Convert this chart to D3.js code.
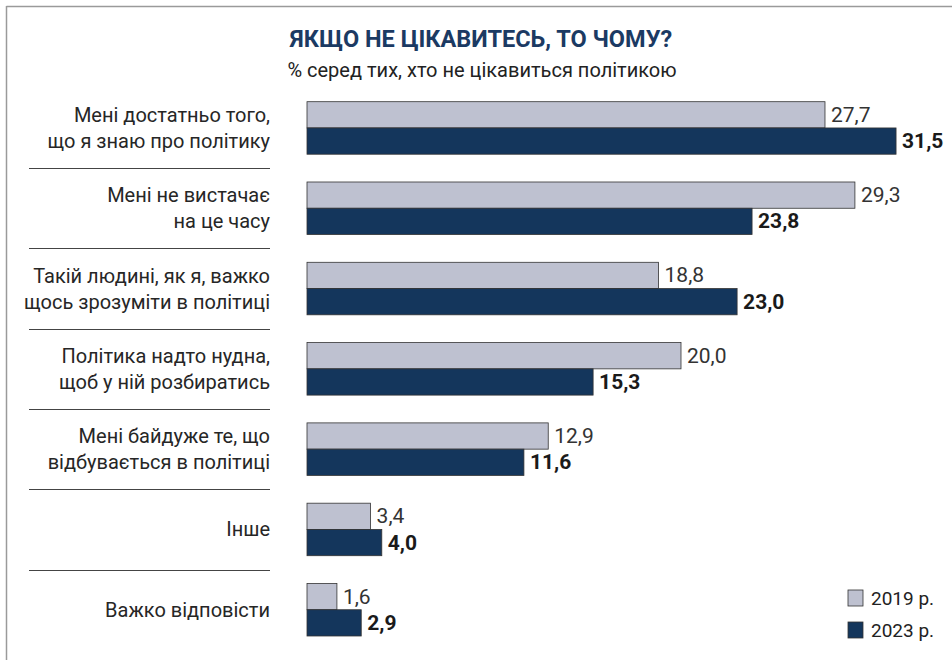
<!DOCTYPE html>
<html><head><meta charset="utf-8">
<script src="https://cdn.jsdelivr.net/npm/d3@7"></script>
<style>
html,body{margin:0;padding:0;background:#fff;}
svg{display:block;}
</style></head>
<body>
<svg id="chart" width="952" height="660"></svg>
<script>
const categories = [
  ["Мені достатньо того,", "що я знаю про політику"],
  ["Мені не вистачає", "на це часу"],
  ["Такій людині, як я, важко", "щось зрозуміти в політиці"],
  ["Політика надто нудна,", "щоб у ній розбиратись"],
  ["Мені байдуже те, що", "відбувається в політиці"],
  ["Інше"],
  ["Важко відповісти"]
];
const seriesNames = ["2019 р.", "2023 р."];
const values2019 = [27.7, 29.3, 18.8, 20.0, 12.9, 3.4, 1.6];
const values2023 = [31.5, 23.8, 23.0, 15.3, 11.6, 4.0, 2.9];
const title = "ЯКЩО НЕ ЦІКАВИТЕСЬ, ТО ЧОМУ?";
const subtitle = "% серед тих, хто не цікавиться політикою";

const colors = ["#bec1d0", "#14365c"];
const svg = d3.select("#chart");
const fmt = v => d3.format(".1f")(v).replace(".", ",");

// frame
svg.append("line").attr("x1", 6.5).attr("x2", 952).attr("y1", 6.5).attr("y2", 6.5)
  .attr("stroke", "#9a9a9a").attr("stroke-width", 1.5);
svg.append("line").attr("x1", 6.5).attr("x2", 6.5).attr("y1", 6).attr("y2", 660)
  .attr("stroke", "#9a9a9a").attr("stroke-width", 1.5);

svg.append("text").attr("x", 481).attr("y", 47).attr("text-anchor", "middle")
  .attr("font-family", "'Liberation Sans Narrow', 'Roboto', sans-serif")
  .attr("font-weight", "bold").attr("font-size", 23.5).attr("fill", "#1b3a63")
  .text(title);
svg.append("text").attr("x", 482).attr("y", 77).attr("text-anchor", "middle")
  .attr("font-family", "Roboto, sans-serif").attr("font-size", 20).attr("fill", "#222")
  .text(subtitle);

const idx = d3.range(categories.length);
const y = d3.scaleBand().domain(idx).range([101.7, 636]).paddingInner(0.346).paddingOuter(0);
const ySub = d3.scaleBand().domain([0, 1]).range([0, y.bandwidth()]);
const x = d3.scaleLinear().domain([0, 35]).range([307, 307 + 35 * 18.7]);

const data = idx.map(i => ({i, vals: [values2019[i], values2023[i]]}));
const g = svg.selectAll("g.grp").data(data).join("g").attr("class", "grp")
  .attr("transform", d => `translate(0,${y(d.i)})`);

g.selectAll("rect").data(d => d.vals.map((v, s) => ({v, s}))).join("rect")
  .attr("x", x(0)).attr("y", d => ySub(d.s))
  .attr("width", d => x(d.v) - x(0)).attr("height", ySub.bandwidth())
  .attr("fill", d => colors[d.s]).attr("stroke", "#333").attr("stroke-width", 0.8);

g.selectAll("text.val").data(d => d.vals.map((v, s) => ({v, s}))).join("text")
  .attr("class", "val")
  .attr("x", d => x(d.v) + 6).attr("y", d => ySub(d.s) + ySub.bandwidth() / 2 + 7)
  .attr("font-family", "'Liberation Sans Narrow', 'Roboto', sans-serif")
  .attr("font-size", 21)
  .attr("font-weight", d => d.s === 1 ? "bold" : "normal")
  .attr("fill", d => d.s === 1 ? "#1a1a1a" : "#333")
  .text(d => fmt(d.v));

// category labels
g.each(function(d) {
  const lines = categories[d.i];
  const c = y.bandwidth() / 2;
  const lh = 26;
  const t = d3.select(this).append("text")
    .attr("text-anchor", "end").attr("font-family", "Roboto, sans-serif")
    .attr("font-size", 20).attr("fill", "#262626");
  lines.forEach((ln, k) => {
    t.append("tspan").attr("x", 270)
      .attr("y", c + (k - (lines.length - 1) / 2) * lh + 7).text(ln);
  });
});

// separators
idx.slice(0, -1).forEach(i => {
  const yy = Math.round((y(i) + y.bandwidth() + y(i + 1)) / 2) + 0.5;
  svg.append("line").attr("x1", 29).attr("x2", 270).attr("y1", yy).attr("y2", yy)
    .attr("stroke", "#444").attr("stroke-width", 1);
});

// legend
const lg = svg.selectAll("g.leg").data(seriesNames).join("g").attr("class", "leg")
  .attr("transform", (d, k) => `translate(848,${590 + k * 32})`);
lg.append("rect").attr("width", 15).attr("height", 16)
  .attr("fill", (d, k) => colors[k]).attr("stroke", "#333").attr("stroke-width", 0.8);
lg.append("text").attr("x", 23).attr("y", 15)
  .attr("font-family", "Roboto, sans-serif").attr("font-size", 19).attr("fill", "#222")
  .text(d => d);
</script>
</body></html>
